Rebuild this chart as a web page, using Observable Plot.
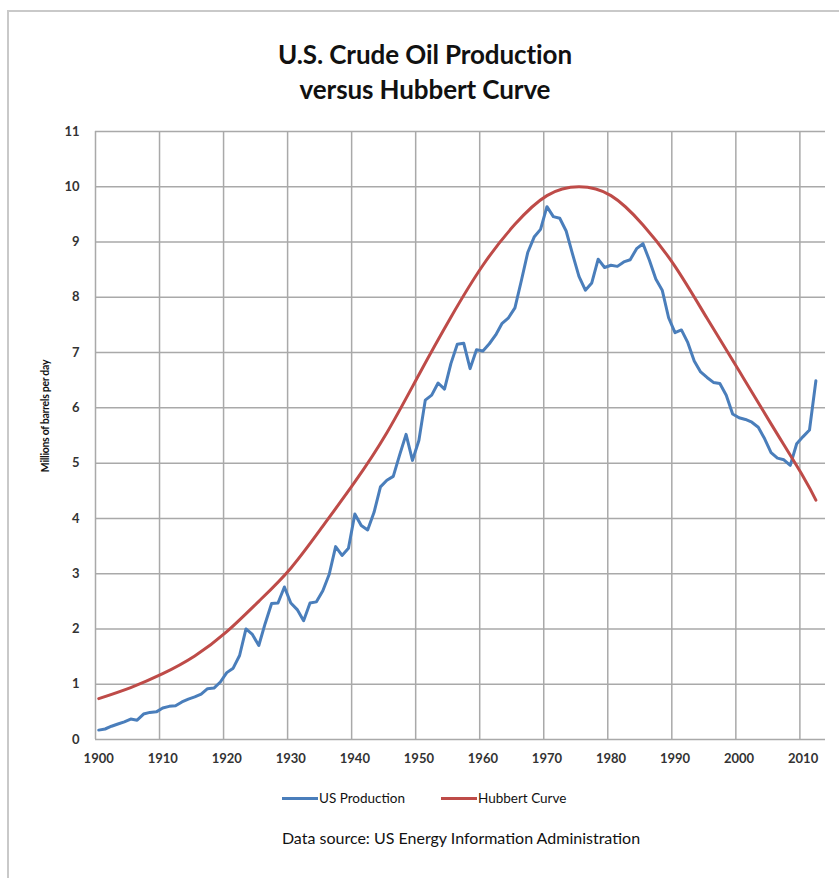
<!DOCTYPE html>
<html><head><meta charset="utf-8">
<script src="https://cdn.jsdelivr.net/npm/d3@7"></script>
<script src="https://cdn.jsdelivr.net/npm/@observablehq/plot@0.6"></script>
<style>
body{margin:0;background:#fff;font-family:Lato,"Open Sans",sans-serif;}
#wrap{position:relative;width:839px;height:878px;overflow:hidden;background:#fff;}
#frame{position:absolute;left:7px;top:10px;width:900px;height:900px;border-top:2px solid #c9c9c9;border-left:2px solid #c9c9c9;}
#chart{position:absolute;left:0;top:0;}
.title{position:absolute;left:0;width:850px;text-align:center;font-weight:700;font-size:26px;line-height:35px;color:#111;top:37px;letter-spacing:-0.1px;}
#ylab{position:absolute;left:45px;top:416px;transform:translate(-50%,-50%) rotate(-90deg);font-weight:700;font-size:10.5px;white-space:nowrap;color:#111;letter-spacing:-0.3px;}
.leg{position:absolute;top:790px;font-size:13.5px;color:#111;white-space:nowrap;line-height:16px;}
.sw{display:inline-block;width:36px;height:3px;vertical-align:middle;margin-right:1px;position:relative;top:-1px;}
#cap{position:absolute;top:828px;left:0;width:922px;text-align:center;font-size:16px;color:#111;}
</style>
</head><body>
<div id="wrap">
<div id="frame"></div>
<div id="chart"></div>
<div class="title">U.S. Crude Oil Production<br>versus Hubbert Curve</div>
<div id="ylab">Millions of barrels per day</div>
<div class="leg" style="left:282px"><span class="sw" style="background:#4a7ebb"></span>US Production</div>
<div class="leg" style="left:441px"><span class="sw" style="background:#be4b48"></span>Hubbert Curve</div>
<div id="cap">Data source: US Energy Information Administration</div>
</div>
<script>
const firstYear = 1900;
const productionValues = [
 0.17,0.19,0.24,0.28,0.32,0.37,0.35,0.46,0.49,0.50,
 0.57,0.60,0.61,0.68,0.73,0.77,0.82,0.92,0.93,1.04,
 1.21,1.29,1.52,2.00,1.90,1.70,2.10,2.46,2.47,2.76,
 2.47,2.35,2.15,2.47,2.49,2.69,2.99,3.49,3.33,3.46,
 4.08,3.87,3.79,4.11,4.57,4.69,4.76,5.15,5.52,5.05,
 5.41,6.14,6.23,6.45,6.34,6.80,7.15,7.17,6.71,7.05,
 7.03,7.16,7.32,7.53,7.63,7.81,8.30,8.81,9.09,9.23,
 9.64,9.46,9.43,9.20,8.78,8.38,8.13,8.26,8.69,8.54,
 8.58,8.56,8.64,8.68,8.88,8.97,8.67,8.33,8.13,7.63,
 7.36,7.41,7.18,6.85,6.65,6.55,6.46,6.44,6.23,5.89,
 5.82,5.79,5.74,5.65,5.44,5.19,5.09,5.06,4.96,5.35,
 5.48,5.60,6.49
];
const hubbertYears = [1900,1905,1910,1915,1920,1925,1930,1935,1940,1945,1950,1955,1960,1965,1970,1975,1980,1985,1990,1995,2000,2005,2010,2012];
const hubbertValues = [0.74,0.94,1.19,1.51,1.95,2.50,3.10,3.86,4.66,5.55,6.60,7.64,8.58,9.32,9.84,10.0,9.84,9.31,8.56,7.62,6.67,5.71,4.76,4.33];
const xTicks = [1900,1910,1920,1930,1940,1950,1960,1970,1980,1990,2000,2010];
const yTicks = [0,1,2,3,4,5,6,7,8,9,10,11];

const production = productionValues.map((v,i)=>({year:firstYear+i, value:v}));
const hubbert = hubbertYears.map((y,i)=>({year:y, value:hubbertValues[i]}));
const xGrid = xTicks.map(t=>t-0.5);

const gridStyle = {stroke:"#a9a9a9", strokeOpacity:1, strokeWidth:1.5};
const chart = Plot.plot({
  width: 839, height: 790,
  marginLeft: 95, marginRight: 14, marginTop: 131, marginBottom: 51,
  x: {domain:[1899.5, 2013.5]},
  y: {domain:[0, 11]},
  style: {fontFamily:"Lato, sans-serif", fontSize:"13px", color:"#333", background:"transparent", overflow:"visible"},
  marks: [
    Plot.gridX(xGrid, gridStyle),
    Plot.gridY(yTicks, gridStyle),
    Plot.axisX(xTicks, {tickSize:0, tickPadding:14, label:null, fontWeight:"bold", tickFormat:d=>String(d)}),
    Plot.axisY(yTicks, {tickSize:0, tickPadding:16, label:null, fontWeight:"bold", tickFormat:d=>String(d)}),
    Plot.line(production, {x:"year", y:"value", stroke:"#4a7ebb", strokeWidth:3, strokeLinejoin:"round"}),
    Plot.line(hubbert, {x:"year", y:"value", stroke:"#be4b48", strokeWidth:3, curve:"natural"})
  ]
});
document.getElementById("chart").appendChild(chart);
</script>
</body></html>
